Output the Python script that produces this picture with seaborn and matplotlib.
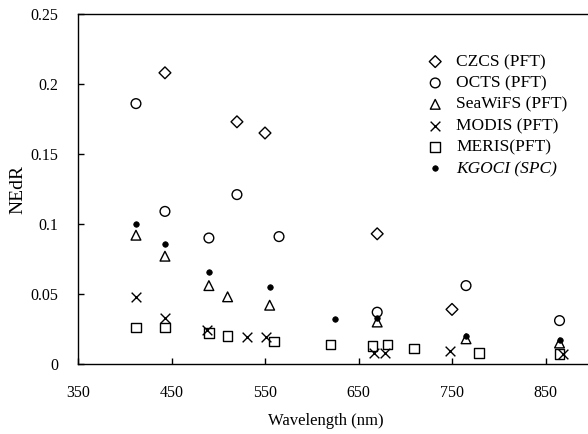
import matplotlib
matplotlib.use("Agg")
import matplotlib.pyplot as plt
import seaborn as sns
import pandas as pd

sns.set_theme(style="ticks")
plt.rcParams['font.family'] = ['Liberation Serif', 'DejaVu Serif']

czcs_wl = [443, 520, 550, 670, 750]
czcs_val = [0.208, 0.173, 0.165, 0.093, 0.039]

octs_wl = [412, 443, 490, 520, 565, 670, 765, 865]
octs_val = [0.186, 0.109, 0.090, 0.121, 0.091, 0.037, 0.056, 0.031]

seawifs_wl = [412, 443, 490, 510, 555, 670, 765, 865]
seawifs_val = [0.092, 0.077, 0.056, 0.048, 0.042, 0.030, 0.018, 0.015]

modis_wl = [412, 443, 488, 531, 551, 667, 678, 748, 869]
modis_val = [0.048, 0.033, 0.024, 0.019, 0.019, 0.008, 0.008, 0.009, 0.007]

meris_wl = [412, 443, 490, 510, 560, 620, 665, 681, 709, 779, 865]
meris_val = [0.026, 0.026, 0.022, 0.020, 0.016, 0.014, 0.013, 0.014, 0.011, 0.008, 0.007]

kgoci_wl = [412, 443, 490, 555, 625, 670, 765, 865]
kgoci_val = [0.100, 0.086, 0.066, 0.055, 0.032, 0.033, 0.020, 0.017]

labels = ["CZCS (PFT)", "OCTS (PFT)", "SeaWiFS (PFT)", "MODIS (PFT)", "MERIS(PFT)", "KGOCI (SPC)"]
xticks = [350, 450, 550, 650, 750, 850]
yticks = [0, 0.05, 0.1, 0.15, 0.2, 0.25]
ytick_labels = ["0", "0.05", "0.1", "0.15", "0.2", "0.25"]

W, H = 588, 434
fig = plt.figure(figsize=(W / 100, H / 100), dpi=100)
ax = fig.add_axes([78 / W, 70 / H, 512 / W, 350 / H])

series = [
    (czcs_wl, czcs_val, "D", 6, True),
    (octs_wl, octs_val, "o", 7, True),
    (seawifs_wl, seawifs_val, "^", 7, True),
    (modis_wl, modis_val, "x", 7, False),
    (meris_wl, meris_val, "s", 7, True),
    (kgoci_wl, kgoci_val, "o", 4, None),
]

for (wl, val, mk, sz, hollow), lab in zip(series, labels):
    df = pd.DataFrame({"wl": wl, "val": val})
    if hollow is True:
        kw = dict(facecolor="none", edgecolor="black", linewidth=1.0)
    elif hollow is False:
        kw = dict(color="black", linewidth=1.0)
    else:
        kw = dict(color="black", edgecolor="black", linewidth=0.5)
    sns.scatterplot(data=df, x="wl", y="val", marker=mk, s=sz ** 2, ax=ax,
                    label=lab, zorder=3, **kw)

ax.set_xlim(350, 350 + 512 / 0.935)
ax.set_ylim(0, 0.25)
ax.set_xticks(xticks)
ax.set_xticklabels([str(t) for t in xticks])
ax.set_yticks(yticks)
ax.set_yticklabels(ytick_labels)
ax.tick_params(direction="in", length=4, width=1, colors="black", labelsize=11.5)
ax.tick_params(axis="y", pad=14)
ax.tick_params(axis="x", pad=15)
for s in ["left", "bottom", "top"]:
    ax.spines[s].set_color("black")
    ax.spines[s].set_linewidth(1.0)
ax.spines["right"].set_visible(False)
ax.set_xlabel("Wavelength (nm)", fontsize=12, color="black", labelpad=9)
ax.xaxis.label.set_x((326 - 78) / 512)
ax.set_ylabel("NEdR", fontsize=14, color="black", labelpad=3)

h, l = ax.get_legend_handles_labels()
leg = ax.legend(h, l, loc="upper left", bbox_to_anchor=(430 / W, 1 - 54 / H),
                bbox_transform=fig.transFigure, frameon=False, fontsize=12.5,
                handlelength=0.6, handletextpad=0.9, labelspacing=0.3,
                borderpad=0, borderaxespad=0, markerscale=1.0)
for t in leg.get_texts():
    t.set_color("black")
leg.get_texts()[-1].set_style("italic")

fig.savefig("out.png", dpi=100)
